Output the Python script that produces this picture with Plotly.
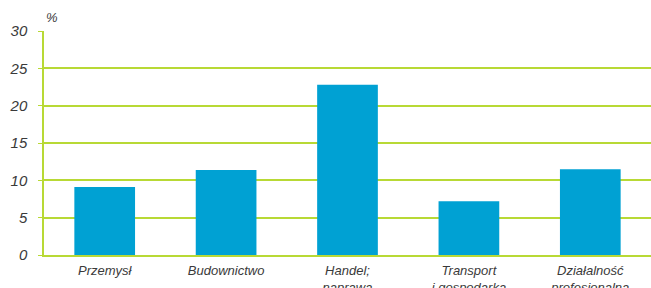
import plotly.graph_objects as go

categories = ["Przemysł", "Budownictwo", "Handel;<br>naprawa", "Transport<br>i gospodarka", "Działalność<br>profesjonalna"]
values = [9.1, 11.4, 22.8, 7.2, 11.5]
y_ticks = [0, 5, 10, 15, 20, 25, 30]

green = "#B8D935"
fig = go.Figure(go.Bar(x=categories, y=values, marker_color="#00A1D3", width=0.5,
                       marker_line_width=0, hoverinfo="skip"))
fig.update_layout(
    width=651, height=288,
    margin=dict(l=44, r=0, t=31, b=33, autoexpand=False),
    plot_bgcolor="white", paper_bgcolor="white",
    font=dict(family="Liberation Sans, Arial", size=13, color="#3a3a3a"),
    showlegend=False,
    bargap=0.5,
)
fig.update_yaxes(range=[0, 30], tickvals=y_ticks, gridcolor=green, gridwidth=1.5,
                 showline=True, linecolor=green, linewidth=1.5, zeroline=False,
                 ticks="outside", ticklen=4, tickcolor=green, automargin=False,
                 ticklabelstandoff=8,
                 tickfont=dict(size=15, style="italic", color="#3a3a3a"))
fig.update_xaxes(showline=True, linecolor=green, linewidth=1.5, automargin=False,
                 ticklabelstandoff=3,
                 tickfont=dict(size=13, style="italic", color="#3a3a3a"))
fig.add_annotation(text="%", xref="paper", yref="paper", x=0.0, y=1.0, xanchor="left",
                   yanchor="bottom", yshift=4, xshift=0, showarrow=False,
                   font=dict(size=13, style="italic", color="#3a3a3a"))
fig.write_html("out.html", config={"displayModeBar": False},
               post_script="document.body.style.margin='0';document.body.style.overflow='hidden';")
